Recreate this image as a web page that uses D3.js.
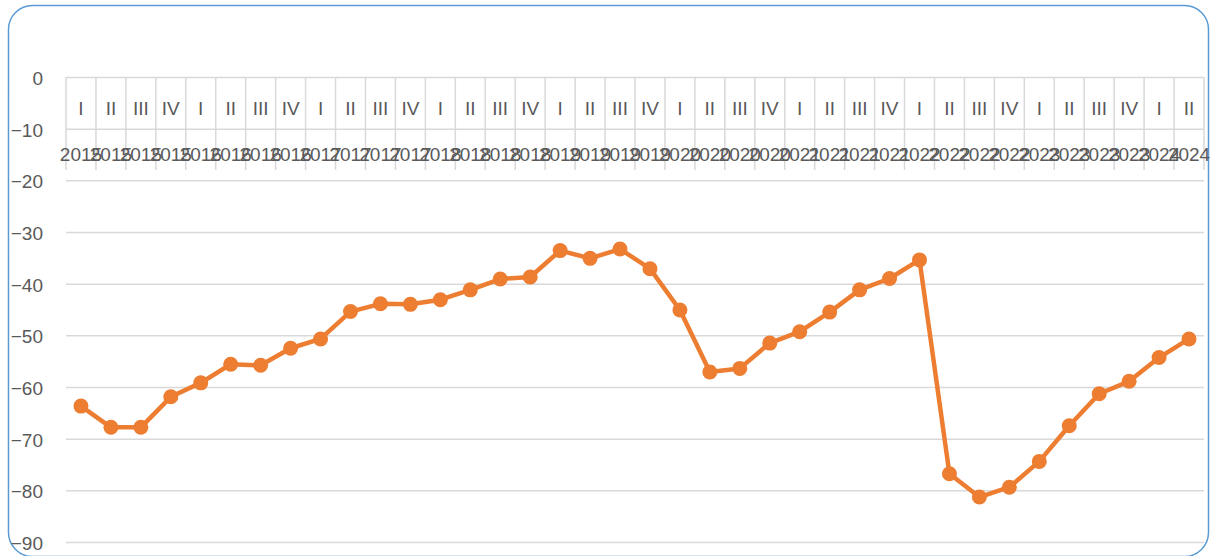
<!DOCTYPE html>
<html>
<head>
<meta charset="utf-8">
<script src="https://cdn.jsdelivr.net/npm/d3@7"></script>
<style>
  body { margin: 0; background: #fff; }
  svg { display: block; font-family: "Liberation Sans", Arial, sans-serif; }
</style>
</head>
<body>
<svg id="chart" width="1215" height="556"></svg>
<script>
// Category labels (two levels: quarter and year).
var quarters = ['I','II','III','IV','I','II','III','IV','I','II','III','IV',
  'I','II','III','IV','I','II','III','IV','I','II','III','IV',
  'I','II','III','IV','I','II','III','IV','I','II','III','IV','I','II'];
var years = ['2015','2015','2015','2015','2016','2016','2016','2016',
  '2017','2017','2017','2017','2018','2018','2018','2018',
  '2019','2019','2019','2019','2020','2020','2020','2020',
  '2021','2021','2021','2021','2022','2022','2022','2022',
  '2023','2023','2023','2023','2024','2024'];

// Series values.
var values = [-63.7, -67.8, -67.8, -61.9, -59.2, -55.6, -55.8, -52.5,
  -50.7, -45.4, -43.9, -44.0, -43.1, -41.2, -39.1, -38.7,
  -33.6, -35.1, -33.3, -37.1, -45.1, -57.1, -56.4, -51.5,
  -49.3, -45.5, -41.2, -39.0, -35.4, -76.8, -81.3, -79.4,
  -74.4, -67.5, -61.3, -58.9, -54.3, -50.7];

var yTicks = [0, -10, -20, -30, -40, -50, -60, -70, -80, -90];

var svg = d3.select('#chart');
var textColor = '#595959';
var gridColor = '#d9d9d9';
var lineColor = '#ed7d31';

var plot = {left: 66, right: 1204, top: 77, bottom: 542};

var x = d3.scaleBand()
    .domain(d3.range(values.length))
    .range([plot.left, plot.right])
    .padding(0);

var y = d3.scaleLinear()
    .domain([-90, 0])
    .range([plot.bottom, plot.top]);

// Chart border.
svg.append('rect')
    .attr('x', 8.5)
    .attr('y', 5.5)
    .attr('width', 1200)
    .attr('height', 551)
    .attr('rx', 24)
    .attr('ry', 24)
    .style('fill', '#fff')
    .style('stroke', '#5b9bd5')
    .style('stroke-width', 1.5);

// Horizontal gridlines.
var grid = svg.append('g')
    .attr('transform', 'translate(' + plot.left + ',0)')
    .call(d3.axisLeft(y).tickValues(yTicks).tickSize(-(plot.right - plot.left)).tickFormat(''));
grid.select('.domain').remove();
grid.selectAll('line')
    .style('stroke', gridColor)
    .style('stroke-width', 1.5);

// Value axis labels.
var yAxis = svg.append('g')
    .attr('transform', 'translate(' + plot.left + ',0)')
    .call(d3.axisLeft(y).tickValues(yTicks).tickSize(0).tickPadding(23));
yAxis.select('.domain').remove();
yAxis.selectAll('text')
    .style('font-family', '"Liberation Sans", Arial, sans-serif')
    .style('font-size', '19px')
    .style('fill', textColor)
    .attr('dy', '0.4em');

// Multi-level category axis at the top.
var catAxis = svg.append('g').attr('class', 'cat-axis');
var dividerBottom = 170;

catAxis.selectAll('.divider')
    .data(d3.range(values.length + 1))
    .enter().append('line')
    .attr('class', 'divider')
    .attr('x1', function(i) { return i < values.length ? x(i) : plot.right; })
    .attr('x2', function(i) { return i < values.length ? x(i) : plot.right; })
    .attr('y1', y(0))
    .attr('y2', dividerBottom)
    .style('stroke', gridColor)
    .style('stroke-width', 1.5);

catAxis.selectAll('.quarter')
    .data(quarters)
    .enter().append('text')
    .attr('class', 'quarter')
    .attr('x', function(d, i) { return x(i) + x.bandwidth() / 2; })
    .attr('y', 115)
    .attr('text-anchor', 'middle')
    .style('font-size', '19px')
    .style('fill', textColor)
    .text(function(d) { return d; });

catAxis.selectAll('.year')
    .data(years)
    .enter().append('text')
    .attr('class', 'year')
    .attr('x', function(d, i) { return x(i) + x.bandwidth() / 2; })
    .attr('y', 161)
    .attr('text-anchor', 'middle')
    .style('font-size', '19px')
    .style('fill', textColor)
    .text(function(d) { return d; });

// Series line and markers.
var line = d3.line()
    .x(function(d, i) { return x(i) + x.bandwidth() / 2; })
    .y(function(d) { return y(d); });

svg.append('path')
    .datum(values)
    .attr('d', line)
    .style('fill', 'none')
    .style('stroke', lineColor)
    .style('stroke-width', 4.5)
    .style('stroke-linejoin', 'round')
    .style('stroke-linecap', 'round');

svg.selectAll('.marker')
    .data(values)
    .enter().append('circle')
    .attr('class', 'marker')
    .attr('cx', function(d, i) { return x(i) + x.bandwidth() / 2; })
    .attr('cy', function(d) { return y(d); })
    .attr('r', 7.5)
    .style('fill', lineColor);
</script>
</body>
</html>
